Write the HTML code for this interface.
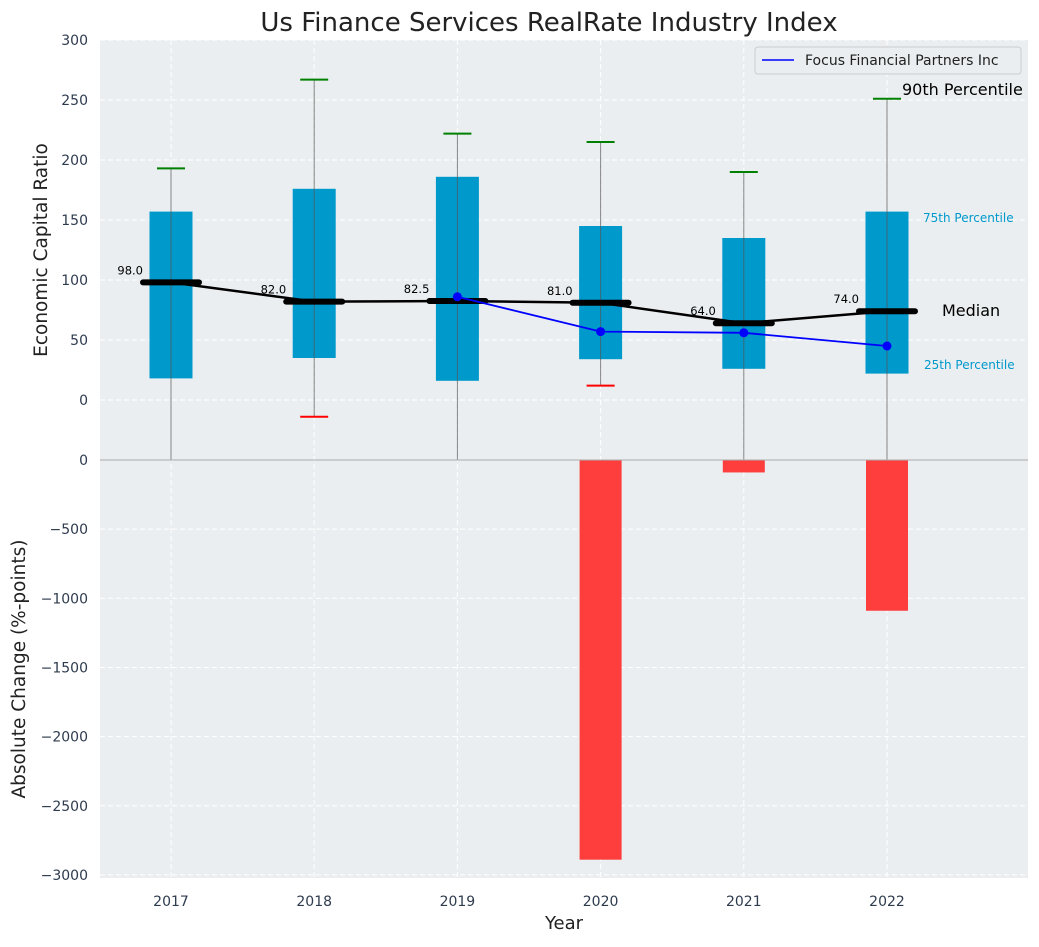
<!DOCTYPE html>
<html><head><meta charset="utf-8"><style>
body{margin:0;background:#fff;font-family:"Liberation Sans","DejaVu Sans",sans-serif}
text{font-family:"DejaVu Sans","Liberation Sans",sans-serif}
</style></head><body>
<svg id="chart" width="1039" height="942" xmlns="http://www.w3.org/2000/svg"></svg>
<script>
const years=[2017,2018,2019,2020,2021,2022];
const p25=[18,35,16,34,26,22];
const p75=[157,176,186,145,135,157];
const medians=[98,82,82.5,81,64,74];
const p90=[193,267,222,215,190,251];
const p10=[-100,-14,-100,12,-100,-100];
const focusYears=[2019,2020,2021,2022];
const focusVals=[86,57,56,45];
const changes=[0,0,0,-2890,-90,-1090];
const topTicks=[0,50,100,150,200,250,300];
const botTicks=[0,-500,-1000,-1500,-2000,-2500,-3000];

const NS="http://www.w3.org/2000/svg";
const svg=document.getElementById('chart');
function el(tag,attrs,parent){const e=document.createElementNS(NS,tag);for(const k in attrs)e.setAttribute(k,attrs[k]);(parent||svg).appendChild(e);return e;}
const L=100,R=1028,T1=40,B1=460,B2=878;
const X=y=>171+(y-2017)*143.2;
const Y1=v=>400-v*1.2;
const Y2=v=>460-v*0.1383;

let bg=el('rect',{x:L,y:T1,width:R-L,height:B1-T1,fill:'#eaeef0'});

let bg2=el('rect',{x:L,y:B1,width:R-L,height:B2-B1,fill:'#eaeef0'});

const defs=el('defs',{});
const cp=el('clipPath',{id:'c1'},defs);el('rect',{x:L,y:T1,width:R-L,height:B1-T1},cp);
const cp2=el('clipPath',{id:'c2'},defs);el('rect',{x:L,y:B1,width:R-L,height:B2-B1},cp2);

topTicks.forEach(t=>{el('line',{x1:L,x2:R,y1:Y1(t),y2:Y1(t),stroke:'#fff','stroke-dasharray':'5,3'});
 const tx=el('text',{x:L-12,y:Y1(t)+5,'text-anchor':'end','font-size':14,fill:'#2e3b4e'});tx.textContent=t;
 });
el('line',{x1:L,x2:R,y1:Y1(-50),y2:Y1(-50),stroke:'#fff','stroke-dasharray':'5,3'});
botTicks.forEach(t=>{el('line',{x1:L,x2:R,y1:Y2(t),y2:Y2(t),stroke:'#fff','stroke-dasharray':'5,3'});
 const tx=el('text',{x:L-12,y:Y2(t)+5,'text-anchor':'end','font-size':14,fill:'#2e3b4e'});tx.textContent=t===0?'0':'\u2212'+Math.abs(t);
 });
years.forEach(y=>{el('line',{x1:X(y),x2:X(y),y1:T1,y2:B2,stroke:'#fff','stroke-dasharray':'5,3'});
 const tx=el('text',{x:X(y),y:906,'text-anchor':'middle','font-size':14,fill:'#2e3b4e'});tx.textContent=y;
 });

const g1=el('g',{'clip-path':'url(#c1)'});
years.forEach((y,i)=>{
 let b=el('rect',{x:X(y)-21.5,y:Y1(p75[i]),width:43,height:Y1(p25[i])-Y1(p75[i]),fill:'#0099cc'},g1);
 
 el('line',{x1:X(y),x2:X(y),y1:Y1(p90[i]),y2:Y1(p10[i]),stroke:'#555','stroke-width':1,opacity:0.7},g1);
 el('line',{x1:X(y)-14,x2:X(y)+14,y1:Y1(p90[i]),y2:Y1(p90[i]),stroke:'green','stroke-width':2},g1);
 el('line',{x1:X(y)-14,x2:X(y)+14,y1:Y1(p10[i]),y2:Y1(p10[i]),stroke:'red','stroke-width':2},g1);
});
let mp=el('polyline',{points:years.map((y,i)=>X(y)+','+Y1(medians[i])).join(' '),fill:'none',stroke:'#000','stroke-width':2.5},g1);

years.forEach((y,i)=>{
 let m=el('line',{x1:X(y)-28,x2:X(y)+28,y1:Y1(medians[i]),y2:Y1(medians[i]),stroke:'#000','stroke-width':6,'stroke-linecap':'round'},g1);
 
 const tx=el('text',{x:X(y)-28,y:Y1(medians[i])-8,'text-anchor':'end','font-size':11.5,fill:'#000'},g1);tx.textContent=medians[i].toFixed(1);
 
});
let fl=el('polyline',{points:focusYears.map((y,i)=>X(y)+','+Y1(focusVals[i])).join(' '),fill:'none',stroke:'blue','stroke-width':1.8},g1);

focusYears.forEach((y,i)=>{let c=el('circle',{cx:X(y),cy:Y1(focusVals[i]),r:4.5,fill:'blue'},g1);
 });

const g2=el('g',{'clip-path':'url(#c2)'});
years.forEach((y,i)=>{if(!changes[i])return;
 let b=el('rect',{x:X(y)-21,y:Y2(0),width:42,height:Y2(changes[i])-Y2(0),fill:'#ff3333',opacity:0.95},g2);
 });
el('line',{x1:L,x2:R,y1:B1,y2:B1,stroke:'#aaa','stroke-width':1});

function txt(s,a,name){const t=el('text',a);t.textContent=s;return t;}
txt('90th Percentile',{x:902,y:95,'font-size':16,fill:'#000'},'p90-annotation');
txt('75th Percentile',{x:923,y:222,'font-size':12,fill:'#0099cc'},'p75-annotation');
txt('Median',{x:942,y:316,'font-size':16,fill:'#000'},'median-annotation');
txt('25th Percentile',{x:924,y:369,'font-size':12,fill:'#0099cc'},'p25-annotation');
txt('Us Finance Services RealRate Industry Index',{x:549,y:31,'text-anchor':'middle','font-size':26,fill:'#222'},'chart-title');
txt('Year',{x:564,y:929,'text-anchor':'middle','font-size':18,fill:'#222'},'x-axis-title');
txt('Economic Capital Ratio',{x:47,y:250,'text-anchor':'middle','font-size':18.5,fill:'#222',transform:'rotate(-90 47 250)'},'y-axis-title');
txt('Absolute Change (%-points)',{x:25,y:669,'text-anchor':'middle','font-size':18.5,fill:'#222',transform:'rotate(-90 25 669)'},'y2-axis-title');
const lg=el('g',{});
el('rect',{x:755,y:47,width:266,height:27,rx:3,fill:'#eaeef0',stroke:'#ccc'},lg);
el('line',{x1:762,x2:794,y1:60,y2:60,stroke:'blue','stroke-width':1.5},lg);
const lt=el('text',{x:805,y:65,'font-size':14,fill:'#222'},lg);lt.textContent='Focus Financial Partners Inc';
</script></body></html>
